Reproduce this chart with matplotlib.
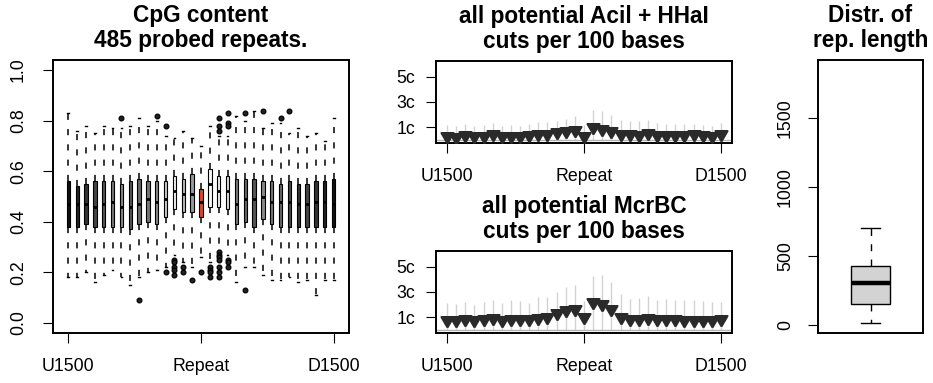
import numpy as np
import matplotlib
matplotlib.use("Agg")
import matplotlib.pyplot as plt

plt.rcParams['font.family'] = ['Liberation Sans', 'DejaVu Sans']

# --- data ---
pos_labels = ['U1500', 'Repeat', 'D1500']
n_pos = 31

# CpG content boxplots (31 positions, Repeat = 16)
cpg_med = [0.47, 0.47, 0.47, 0.46, 0.47, 0.48, 0.46, 0.46, 0.47, 0.49, 0.48, 0.49, 0.52, 0.51, 0.51, 0.48,
           0.55, 0.52, 0.52, 0.47, 0.49, 0.49, 0.50, 0.48, 0.48, 0.48, 0.47, 0.47, 0.48, 0.48, 0.47]
cpg_q1 = [0.38, 0.38, 0.39, 0.38, 0.38, 0.38, 0.38, 0.37, 0.39, 0.40, 0.39, 0.42, 0.45, 0.44, 0.44, 0.42,
          0.46, 0.46, 0.45, 0.39, 0.40, 0.38, 0.41, 0.39, 0.38, 0.38, 0.38, 0.38, 0.38, 0.38, 0.38]
cpg_q3 = [0.56, 0.54, 0.55, 0.56, 0.56, 0.56, 0.55, 0.56, 0.57, 0.56, 0.56, 0.56, 0.58, 0.57, 0.59, 0.53,
          0.61, 0.58, 0.58, 0.57, 0.57, 0.57, 0.56, 0.56, 0.55, 0.56, 0.55, 0.55, 0.56, 0.56, 0.57]
cpg_lo = [0.18, 0.18, 0.20, 0.16, 0.19, 0.21, 0.18, 0.15, 0.18, 0.20, 0.21, 0.22, 0.27, 0.24, 0.22, 0.26,
          0.24, 0.29, 0.27, 0.16, 0.22, 0.22, 0.19, 0.17, 0.17, 0.18, 0.16, 0.17, 0.11, 0.17, 0.17]
cpg_hi = [0.83, 0.76, 0.78, 0.75, 0.78, 0.77, 0.77, 0.78, 0.81, 0.78, 0.80, 0.74, 0.73, 0.76, 0.73, 0.70,
          0.78, 0.74, 0.74, 0.82, 0.80, 0.84, 0.77, 0.79, 0.79, 0.75, 0.77, 0.74, 0.75, 0.72, 0.81]
cpg_out = {7: [0.81], 9: [0.09], 11: [0.82], 12: [0.78, 0.20],
           13: [0.25, 0.24, 0.22, 0.21, 0.19], 14: [0.22, 0.20], 15: [0.17], 16: [0.20],
           17: [0.22, 0.21, 0.20, 0.18],
           18: [0.81, 0.78, 0.76, 0.28, 0.27, 0.26, 0.25, 0.22, 0.20, 0.18],
           19: [0.83, 0.79, 0.78, 0.25, 0.24, 0.22], 21: [0.83, 0.13], 23: [0.84],
           25: [0.81], 26: [0.84]}

# cuts per 100 bases: mean (marker) and upper end of the grey line
acil_val = [0.35, 0.27, 0.38, 0.35, 0.35, 0.45, 0.35, 0.35, 0.35, 0.38, 0.45, 0.48, 0.59, 0.72, 0.77, 0.35,
            1.01, 0.85, 0.74, 0.45, 0.45, 0.40, 0.53, 0.38, 0.38, 0.38, 0.38, 0.45, 0.38, 0.35, 0.45]
acil_hi = [1.16, 1.10, 1.24, 1.10, 1.16, 1.34, 1.10, 1.16, 1.10, 1.24, 1.42, 1.42, 1.50, 1.68, 1.87, 1.16,
           2.34, 2.29, 1.95, 1.61, 1.50, 1.50, 1.61, 1.34, 1.29, 1.29, 1.24, 1.29, 1.16, 1.08, 1.34]
mcr_val = [0.77, 0.77, 0.85, 0.77, 0.85, 0.93, 0.77, 0.85, 0.85, 0.85, 0.98, 1.06, 1.33, 1.59, 1.69, 1.06,
           2.22, 2.03, 1.69, 1.06, 0.90, 0.90, 0.98, 0.85, 0.85, 0.85, 0.77, 0.77, 0.77, 0.77, 0.85]
mcr_hi = [2.13, 2.05, 2.20, 2.00, 2.23, 2.39, 2.13, 2.34, 2.26, 2.13, 2.57, 2.57, 2.97, 3.36, 3.57, 2.26,
          4.23, 4.36, 3.81, 2.87, 2.45, 2.50, 2.66, 2.39, 2.45, 2.39, 2.39, 2.39, 2.26, 2.18, 2.20]
cut_ticks = [1, 3, 5]
cut_labels = ['1c', '3c', '5c']

# repeat length summary
len_med, len_q1, len_q3, len_lo, len_hi = 302, 152, 428, 17, 706

# box fill shades (styling)
box_fill = ['#111111', '#222222', '#333333', '#444444', '#555555', '#777777', '#888888', '#555555',
            '#666666', '#777777', '#888888', '#cccccc', '#f0f0f0', '#bbbbbb', '#999999', '#f2401b',
            '#f8f8f8', '#eeeeee', '#dddddd', '#777777', '#666666', '#555555', '#888888', '#777777',
            '#666666', '#444444', '#333333', '#444444', '#333333', '#222222', '#111111']

W, H = 933, 383
fig = plt.figure(figsize=(W / 100, H / 100), dpi=100)


def box(x0, y0, x1, y1):
    return [x0 / W, 1 - y1 / H, (x1 - x0) / W, (y1 - y0) / H]


TITLE = dict(fontsize=16.3, fontweight='bold', linespacing=1.1, pad=9.4)
TICKFS = 12.8


def frame(ax):
    for s in ax.spines.values():
        s.set_linewidth(1.4)
    ax.tick_params(length=7.2, width=0.8, labelsize=TICKFS, direction='out')


xpos = np.arange(1, n_pos + 1)
tick_at = [1, 16, 31]

# ---------- left: CpG content ----------
ax1 = fig.add_axes(box(53, 60, 349, 333))
stats = []
for i in range(n_pos):
    stats.append(dict(med=cpg_med[i], q1=cpg_q1[i], q3=cpg_q3[i], whislo=cpg_lo[i], whishi=cpg_hi[i],
                      fliers=cpg_out.get(i + 1, [])))
bp = ax1.bxp(stats, positions=xpos, widths=0.38, patch_artist=True, manage_ticks=False,
             boxprops=dict(edgecolor='black', linewidth=0.8),
             medianprops=dict(color='black', linewidth=2.0),
             whiskerprops=dict(color='black', linewidth=1.1, linestyle=(0, (4, 6))),
             capprops=dict(color='black', linewidth=1.0),
             flierprops=dict(marker='o', markersize=3.4, markerfacecolor='#222222',
                             markeredgecolor='black', markeredgewidth=0.9))
for patch, c in zip(bp['boxes'], box_fill):
    patch.set_facecolor(c)
for cap in bp['caps']:
    xd = cap.get_xdata()
    m = xd.mean()
    cap.set_xdata([m - 0.1, m + 0.1])
ax1.set_xlim(-0.74, 32.74)
ax1.set_ylim(-0.04, 1.04)
ax1.set_xticks(tick_at)
ax1.set_xticklabels(pos_labels)
ax1.set_yticks([0.0, 0.2, 0.4, 0.6, 0.8, 1.0])
ax1.set_yticklabels(['0.0', '0.2', '0.4', '0.6', '0.8', '1.0'])
frame(ax1)
ax1.tick_params(axis='x', pad=11)
ax1.tick_params(axis='y', pad=11.5)
plt.setp(ax1.get_yticklabels(), rotation=90, va='center')
ax1.set_title('CpG content\n485 probed repeats.', **TITLE)

# ---------- middle: cuts per 100 bases ----------
tri = [(0, -1.555), (1.3468, 0.7776), (-1.3468, 0.7776), (0, -1.555)]


def cut_panel(rect, vals, hi, title):
    ax = fig.add_axes(rect)
    ax.vlines(xpos, 0, hi, color='#d2d2d2', linewidth=1.0, zorder=1)
    ax.axhline(0, color='#b4b4b4', linewidth=1.0, zorder=1)
    ax.plot(xpos, vals, linestyle='none', marker=tri, markersize=10, color='#2a2a2a',
            markeredgewidth=1.5, markeredgecolor='#2a2a2a', zorder=3)
    ax.set_xlim(-0.2, 32.2)
    ax.set_ylim(-0.24, 6.24)
    ax.set_xticks(tick_at)
    ax.set_xticklabels(pos_labels)
    ax.set_yticks(cut_ticks)
    ax.set_yticklabels(cut_labels)
    frame(ax)
    ax.tick_params(axis='x', pad=11)
    ax.tick_params(axis='y', pad=8)
    ax.set_title(title, **TITLE)
    return ax


cut_panel(box(436, 61, 732, 143), acil_val, acil_hi, 'all potential Acil + HHaI\ncuts per 100 bases')
cut_panel(box(436, 251, 732, 333), mcr_val, mcr_hi, 'all potential McrBC\ncuts per 100 bases')

# ---------- right: repeat length ----------
ax4 = fig.add_axes(box(818, 60, 923, 333))
bp2 = ax4.bxp([dict(med=len_med, q1=len_q1, q3=len_q3, whislo=len_lo, whishi=len_hi, fliers=[])],
              positions=[1], widths=0.4, patch_artist=True, manage_ticks=False,
              boxprops=dict(edgecolor='black', facecolor='#d3d3d3', linewidth=1.0),
              medianprops=dict(color='black', linewidth=3.2, solid_capstyle='butt'),
              whiskerprops=dict(color='black', linewidth=1.0, linestyle=(0, (5, 6))),
              capprops=dict(color='black', linewidth=1.0))
for cap in bp2['caps']:
    cap.set_xdata([0.9, 1.1])
ax4.set_xlim(0.46, 1.54)
ax4.set_ylim(-58, 1923)
ax4.set_xticks([])
ax4.set_yticks([0, 500, 1000, 1500])
ax4.set_yticklabels(['0', '500', '1000', '1500'])
frame(ax4)
ax4.tick_params(axis='y', pad=10)
plt.setp(ax4.get_yticklabels(), rotation=90, va='center')
ax4.set_title('Distr. of\nrep. length', **TITLE)

fig.savefig('out.png', dpi=100)
